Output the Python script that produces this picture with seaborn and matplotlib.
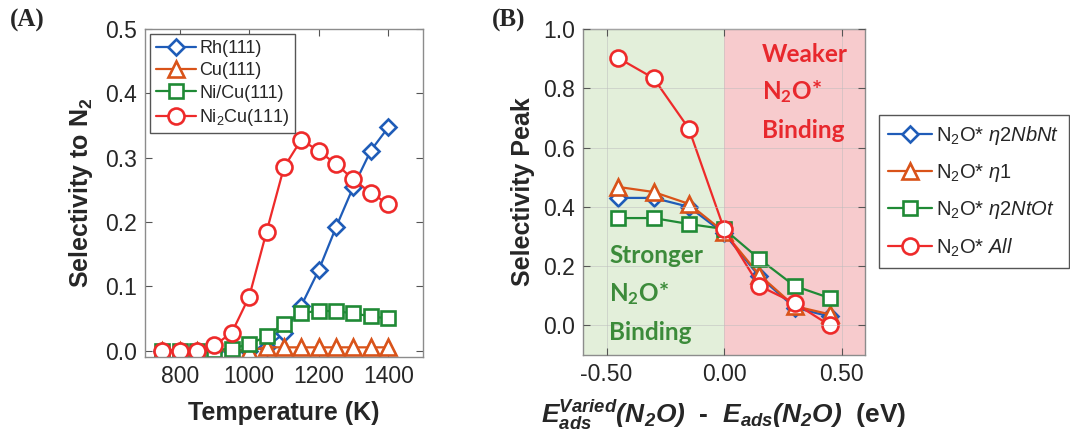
import matplotlib
matplotlib.use("Agg")
import matplotlib.pyplot as plt
import numpy as np
import pandas as pd
import seaborn as sns

# panel A: selectivity to N2 vs temperature
temps = [750, 800, 850, 900, 950, 1000, 1050, 1100, 1150, 1200, 1250, 1300, 1350, 1400]
rh = [0.0, 0.0, 0.0, 0.0, 0.0, 0.0, 0.005, 0.027, 0.07, 0.125, 0.192, 0.255, 0.311, 0.347]
cu = [0.0, 0.0, 0.0, 0.0, 0.0, 0.0, 0.005, 0.005, 0.005, 0.005, 0.005, 0.005, 0.005, 0.005]
nicu = [0.0, 0.0, 0.0, 0.001, 0.003, 0.01, 0.022, 0.042, 0.058, 0.062, 0.061, 0.058, 0.053, 0.05]
ni2cu = [0.0, 0.0, 0.0, 0.008, 0.028, 0.084, 0.185, 0.285, 0.328, 0.31, 0.29, 0.266, 0.245, 0.228]
surfaces = ["Rh(111)", "Cu(111)", "Ni/Cu(111)", "Ni$_2$Cu(111)"]

# panel B: selectivity peak vs binding energy shift
shift = [-0.45, -0.30, -0.15, 0.0, 0.15, 0.30, 0.45]
eta2nbnt = [0.43, 0.43, 0.40, 0.31, 0.165, 0.06, 0.03]
eta1 = [0.467, 0.45, 0.41, 0.315, 0.17, 0.065, 0.037]
eta2ntot = [0.362, 0.362, 0.342, 0.325, 0.224, 0.133, 0.092]
all_modes = [0.902, 0.834, 0.664, 0.325, 0.133, 0.075, 0.0]
modes = ["N$_2$O* $\\mathit{\\eta 2NbNt}$", "N$_2$O* $\\mathit{\\eta 1}$",
         "N$_2$O* $\\mathit{\\eta 2NtOt}$", "N$_2$O* $\\mathit{All}$"]

colors = ["#1f5cb8", "#d95319", "#1f8a35", "#ee2a2a"]
markers = ["D", "^", "s", "o"]
msizes = [8.3, 12, 9.5, 11.5]

sns.set_theme(style="ticks")
plt.rcParams["font.family"] = ["Liberation Sans", "DejaVu Sans"]
plt.rcParams["mathtext.fontset"] = "custom"
plt.rcParams["mathtext.rm"] = "Liberation Sans"
plt.rcParams["mathtext.it"] = "Liberation Sans:italic"
plt.rcParams["mathtext.bf"] = "Liberation Sans:bold"
plt.rcParams["mathtext.bfit"] = "Liberation Sans:italic:bold"
plt.rcParams["mathtext.default"] = "regular"

df_a = pd.DataFrame({
    "T": temps * 4,
    "sel": rh + cu + nicu + ni2cu,
    "surface": np.repeat(surfaces, len(temps)),
})
df_b = pd.DataFrame({
    "dE": shift * 4,
    "peak": eta2nbnt + eta1 + eta2ntot + all_modes,
    "mode": np.repeat(modes, len(shift)),
})

fig = plt.figure(figsize=(10.7, 4.44), dpi=100)
ax_a = fig.add_axes([0.1355, 0.196, 0.2598, 0.7387])
ax_b = fig.add_axes([0.5449, 0.2005, 0.2636, 0.7342])


def style_lines(ax):
    for line, c, m, ms in zip(ax.lines, colors, markers, msizes):
        line.set_color(c)
        line.set_marker(m)
        line.set_markersize(ms)
        line.set_markerfacecolor("white")
        line.set_markeredgecolor(c)
        line.set_markeredgewidth(1.9)
        line.set_linewidth(1.6)


def style_axes(ax):
    for sp in ax.spines.values():
        sp.set_visible(True)
        sp.set_color("#8c8c8c")
        sp.set_linewidth(1.0)
    ax.tick_params(direction="in", length=5, width=0.8, color="#555555",
                   top=True, right=True, labelsize=16.5, labelcolor="#262626", pad=6)


sns.lineplot(data=df_a, x="T", y="sel", hue="surface", hue_order=surfaces,
             palette=colors, sort=False, legend=False, ax=ax_a)
style_lines(ax_a)
ax_a.set_xlim(700, 1500)
ax_a.set_ylim(-0.01, 0.5)
ax_a.set_xticks([800, 1000, 1200, 1400])
ax_a.set_yticks([0, 0.1, 0.2, 0.3, 0.4, 0.5])
ax_a.set_yticklabels(["0.0", "0.1", "0.2", "0.3", "0.4", "0.5"])
style_axes(ax_a)
ax_a.set_xlabel("Temperature (K)", fontsize=18, fontweight="bold", color="#262626", labelpad=9)
ax_a.set_ylabel("Selectivity to N$_2$", fontsize=18, fontweight="bold", color="#262626", labelpad=7)
leg_a = ax_a.legend(ax_a.lines[:4], surfaces, loc="upper left", fontsize=13,
                    handlelength=2.2, handletextpad=0.2, borderpad=0.3,
                    labelspacing=0.3, borderaxespad=0.3, fancybox=False,
                    framealpha=1)
leg_a.get_frame().set_edgecolor("#555555")
leg_a.get_frame().set_linewidth(1.0)

# panel B shaded regions
ax_b.axvspan(-0.6, 0.0, color="#e3efda", zorder=0, lw=0)
ax_b.axvspan(0.0, 0.6, color="#f7cbcd", zorder=0, lw=0)
sns.lineplot(data=df_b, x="dE", y="peak", hue="mode", hue_order=modes,
             palette=colors, sort=False, legend=False, ax=ax_b)
style_lines(ax_b)
ax_b.set_xlim(-0.6, 0.6)
ax_b.set_ylim(-0.1, 1.0)
ax_b.set_xticks([-0.5, 0, 0.5])
ax_b.set_xticklabels(["-0.50", "0.00", "0.50"])
ax_b.set_yticks([0, 0.2, 0.4, 0.6, 0.8, 1.0])
ax_b.set_yticklabels(["0.0", "0.2", "0.4", "0.6", "0.8", "1.0"])
ax_b.grid(True, color="#bdbdbd", linewidth=0.6, alpha=0.6)
ax_b.set_axisbelow(False)
for gl in ax_b.get_xgridlines() + ax_b.get_ygridlines():
    gl.set_zorder(0.5)
style_axes(ax_b)
ax_b.set_ylabel("Selectivity Peak", fontsize=18, fontweight="bold", color="#262626", labelpad=6)
ax_b.set_xlabel(r"$\mathbfit{E_{ads}^{Varied}(N_2O)}$  -  $\mathbfit{E_{ads}(N_2O)}$  (eV)",
                fontsize=19, fontweight="bold", color="#262626", labelpad=8)

txt_kw = dict(fontsize=17.5, fontweight="bold", family=["Lato", "DejaVu Sans"],
              ha="left", va="baseline")
for label, y in zip(["Weaker", "N$_2$O*", "Binding"], [0.888, 0.765, 0.633]):
    ax_b.text(0.162, y, label, color="#e8282d", **txt_kw)
for label, y in zip(["Stronger", "N$_2$O*", "Binding"], [0.211, 0.082, -0.048]):
    ax_b.text(-0.489, y, label, color="#3c8b3a", **txt_kw)

leg_b = ax_b.legend(ax_b.lines[:4], modes, loc="upper left",
                    bbox_to_anchor=(0.8215, 0.741), bbox_transform=fig.transFigure,
                    fontsize=14.5, handlelength=2.2, handletextpad=0.2, borderpad=0.45,
                    labelspacing=0.75, borderaxespad=0, fancybox=False, framealpha=1)
leg_b.get_frame().set_edgecolor("#555555")
leg_b.get_frame().set_linewidth(1.0)

fig.text(0.009, 0.94, "(A)", fontsize=18, fontweight="bold",
         family=["Liberation Serif", "DejaVu Serif"], va="baseline")
fig.text(0.46, 0.94, "(B)", fontsize=18, fontweight="bold",
         family=["Liberation Serif", "DejaVu Serif"], va="baseline")

fig.savefig("out.png", dpi=100)
